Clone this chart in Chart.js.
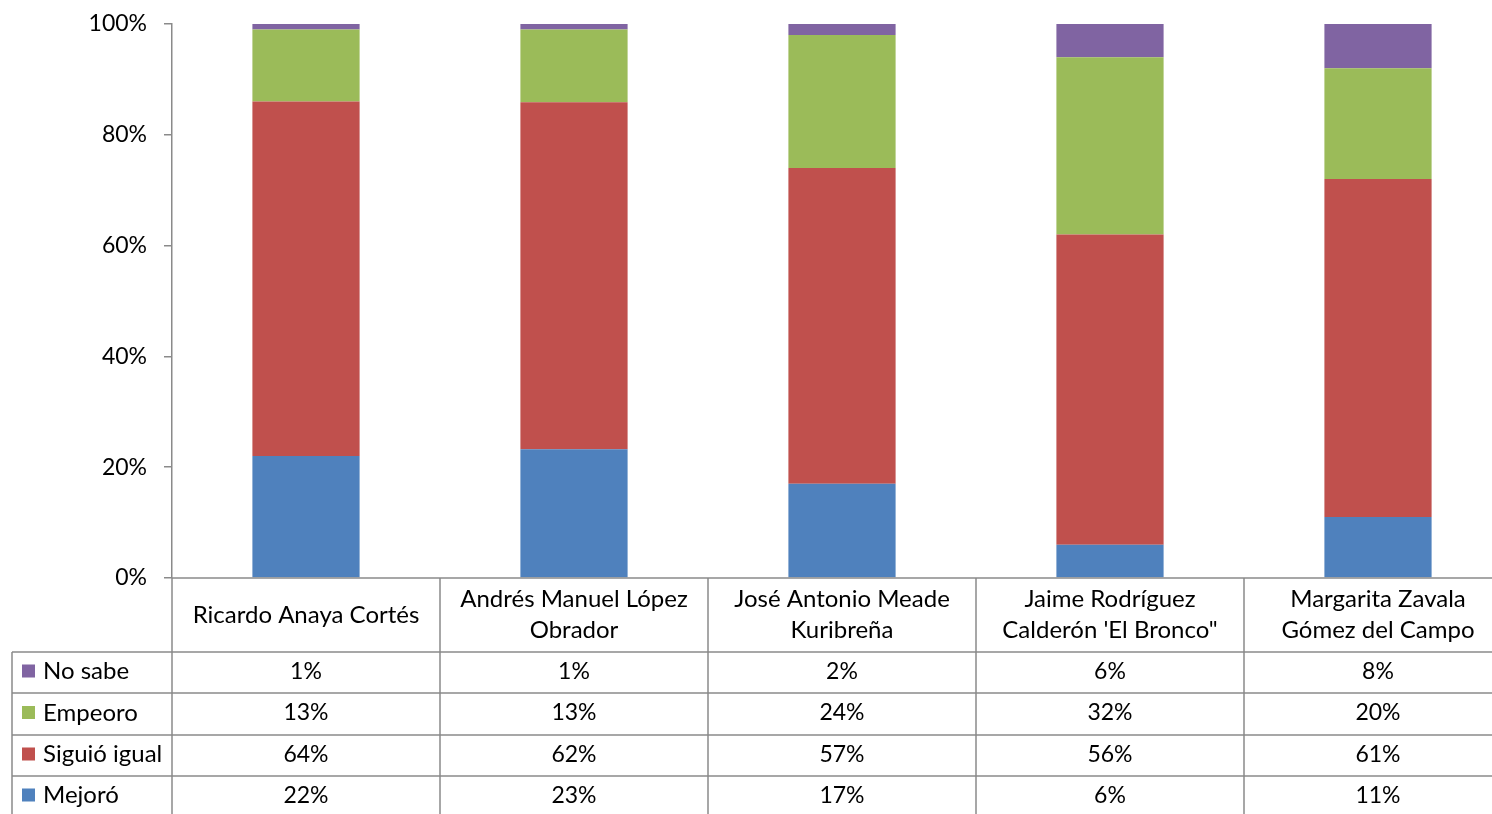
<!DOCTYPE html>
<html>
<head>
<meta charset="utf-8">
<script src="https://cdn.jsdelivr.net/npm/chart.js@4"></script>
<style>
    body { margin: 0; overflow: hidden; background: #fff; }
    #wrap { width: 1512px; height: 814px; position: relative; }
</style>
</head>
<body>
<div id="wrap"><canvas id="barChart"></canvas></div>
<script>
// candidates (table header), one entry per line of text
const categories = [
    ['Ricardo Anaya Cortés'],
    ['Andrés Manuel López', 'Obrador'],
    ['José Antonio Meade', 'Kuribreña'],
    ['Jaime Rodríguez', "Calderón 'El Bronco\""],
    ['Margarita Zavala', 'Gómez del Campo']
];

// values in percent, as shown in the data table
const mejoro = [22, 23, 17, 6, 11];
const siguioIgual = [64, 62, 57, 56, 61];
const empeoro = [13, 13, 24, 32, 20];
const noSabe = [1, 1, 2, 6, 8];

const yTicks = [0, 0.2, 0.4, 0.6, 0.8, 1];

const FONT = 'Lato, "Liberation Sans", sans-serif';
const LINE = '#8a8a8a';

const series = [
    { label: 'Mejoró', data: mejoro, color: '#4F81BD' },
    { label: 'Siguió igual', data: siguioIgual, color: '#C0504D' },
    { label: 'Empeoro', data: empeoro, color: '#9BBB59' },
    { label: 'No sabe', data: noSabe, color: '#8064A2' }
];

// 100% stacked: each column is scaled by its own total
const totals = categories.map((c, i) => series.reduce((s, d) => s + d.data[i], 0));

// table rows are listed top-down, the reverse of the stack
const tableRows = series.slice().reverse();

const dataTablePlugin = {
    id: 'dataTable',
    afterDraw(chart) {
        const ctx = chart.ctx;
        const x = chart.scales.x;
        const area = chart.chartArea;
        const half = (x.getPixelForValue(1) - x.getPixelForValue(0)) / 2;
        const axisY = area.bottom;
        const headerBottom = 652;
        const rowEdges = [652, 693, 735, 776, 817];
        const right = chart.width;

        ctx.save();
        ctx.strokeStyle = LINE;
        ctx.lineWidth = 1.5;

        // x axis / top of the table
        ctx.beginPath();
        ctx.moveTo(area.left, axisY);
        ctx.lineTo(right, axisY);
        // horizontal row lines
        rowEdges.forEach(yy => {
            ctx.moveTo(12, yy);
            ctx.lineTo(right, yy);
        });
        // vertical column lines
        for (let i = 0; i < categories.length; i++) {
            const left = x.getPixelForValue(i) - half;
            ctx.moveTo(left, axisY);
            ctx.lineTo(left, 814);
        }
        ctx.moveTo(12, headerBottom);
        ctx.lineTo(12, 814);
        ctx.stroke();

        ctx.fillStyle = '#000';
        ctx.font = '24px ' + FONT;
        ctx.textAlign = 'center';
        ctx.textBaseline = 'middle';

        // header: candidate names
        const headerMid = (axisY + headerBottom) / 2;
        categories.forEach((lines, i) => {
            const cx = x.getPixelForValue(i);
            lines.forEach((t, k) => {
                const yy = headerMid + (k - (lines.length - 1) / 2) * 31;
                ctx.fillText(t, cx, yy);
            });
        });

        // rows: legend key + values
        tableRows.forEach((s, r) => {
            const yy = (rowEdges[r] + rowEdges[r + 1]) / 2 - 1;
            ctx.fillStyle = s.color;
            ctx.fillRect(22, yy - 7, 13, 13);
            ctx.fillStyle = '#000';
            ctx.textAlign = 'left';
            ctx.font = '24px ' + FONT;
            ctx.fillText(s.label, 43, yy);
            ctx.textAlign = 'center';
            ctx.font = '23px ' + FONT;
            s.data.forEach((v, i) => {
                ctx.fillText(v + '%', x.getPixelForValue(i), yy);
            });
        });
        ctx.restore();
    }
};

const ctxBar = document.getElementById('barChart').getContext('2d');

const barChart = new Chart(ctxBar, {
    type: 'bar',
    data: {
        labels: categories,
        datasets: series.map(s => ({
            label: s.label,
            data: s.data.map((v, i) => v / totals[i]),
            backgroundColor: s.color,
            borderWidth: 0,
            barPercentage: 0.4,
            categoryPercentage: 1
        }))
    },
    options: {
        responsive: true,
        maintainAspectRatio: false,
        animation: false,
        layout: {
            padding: { top: 24, bottom: 236, left: 0, right: 0 }
        },
        plugins: {
            legend: { display: false },
            tooltip: {
                callbacks: {
                    label: function (item) {
                        return `${item.dataset.label}: ${series[item.datasetIndex].data[item.dataIndex]}%`;
                    }
                }
            }
        },
        scales: {
            x: {
                stacked: true,
                display: false
            },
            y: {
                stacked: true,
                min: 0,
                max: 1,
                afterBuildTicks: function (scale) {
                    scale.ticks = yTicks.map(v => ({ value: v }));
                },
                afterFit: function (scale) {
                    scale.width = 172;
                    scale.paddingTop = 0;
                    scale.paddingBottom = 0;
                },
                grid: {
                    drawOnChartArea: false,
                    drawTicks: true,
                    tickLength: 8,
                    color: LINE,
                    lineWidth: 1.5
                },
                border: {
                    color: LINE,
                    width: 1.5
                },
                ticks: {
                    padding: 17,
                    color: '#000',
                    font: { size: 23, family: FONT },
                    callback: v => Math.round(v * 100) + '%'
                }
            }
        }
    },
    plugins: [dataTablePlugin]
});
</script>
</body>
</html>
